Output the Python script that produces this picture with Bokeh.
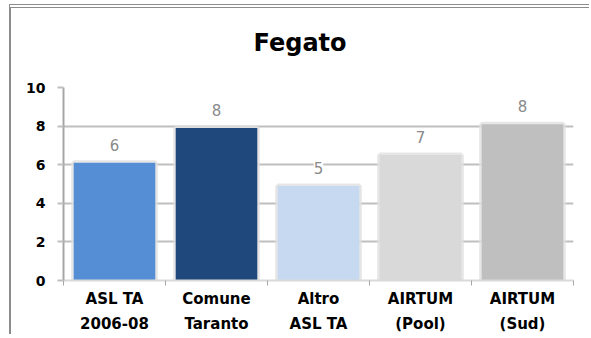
from bokeh.plotting import figure
from bokeh.models import (Range1d, FixedTicker, LinearAxis, CategoricalAxis,
                          ColumnDataSource, LabelSet)
from bokeh.core.properties import value
from bokeh.embed import file_html
from bokeh.resources import INLINE

# ---- data ----
categories = ["ASL TA\n2006-08", "Comune\nTaranto", "Altro\nASL TA", "AIRTUM\n(Pool)", "AIRTUM\n(Sud)"]
values = [6.1, 7.9, 4.9, 6.5, 8.1]
value_labels = ["6", "8", "5", "7", "8"]
colors = ["#558ED5", "#1F497D", "#C6D9F1", "#D9D9D9", "#BFBFBF"]
y_ticks = [0, 2, 4, 6, 8, 10]
title_text = "Fegato"

FONT = "DejaVu Sans"

p = figure(width=580, height=330, x_range=categories, y_range=Range1d(0, 10),
           output_backend="svg", toolbar_location=None,
           x_axis_location=None, y_axis_location="left",
           min_border_left=52, min_border_right=18, min_border_top=79, min_border_bottom=58,
           title=title_text + "\n")
p.styles = {"margin-left": "9px", "margin-top": "4px",
            "border-left": "2px solid #8C8C8C", "border-top": "4px double #8C8C8C"}
p.outline_line_color = None
p.background_fill_color = "white"
p.border_fill_color = "white"
p.xgrid.visible = False

p.title.align = "left"
p.title.offset = 190
p.title.standoff = 6
p.title.text_font = FONT
p.title.text_font_size = "24px"
p.title.text_font_style = "bold"
p.title.text_color = "black"

# y axis
p.yaxis.ticker = FixedTicker(ticks=y_ticks)
p.yaxis.axis_line_color = "#A6A6A6"
p.yaxis.axis_line_width = 2
p.yaxis.major_tick_out = 6
p.yaxis.major_tick_in = 0
p.yaxis.major_tick_line_color = "#BFBFBF"
p.yaxis.major_tick_line_width = 2
p.yaxis.minor_tick_line_color = None
p.yaxis.major_label_text_font = FONT
p.yaxis.major_label_text_font_size = "14px"
p.yaxis.major_label_text_font_style = "bold"
p.yaxis.major_label_text_color = "black"
p.yaxis.major_label_standoff = 12
p.ygrid.ticker = FixedTicker(ticks=y_ticks)
p.ygrid.grid_line_color = "#BFBFBF"
p.ygrid.grid_line_width = 2

# x axis: boundary tick marks (minor ticks only, no labels) + category labels
tick_axis = LinearAxis(ticker=FixedTicker(ticks=[], minor_ticks=list(range(len(categories) + 1))),
                       major_tick_out=0, major_tick_in=0, minor_tick_out=5, minor_tick_in=0,
                       major_label_standoff=0,
                       axis_line_color="#D9D9D9", axis_line_width=2,
                       minor_tick_line_color="#A6A6A6", minor_tick_line_width=1)
p.add_layout(tick_axis, "below")

cat_axis = CategoricalAxis(major_tick_line_color=None, major_tick_out=0, major_tick_in=0,
                           axis_line_color=None,
                           major_label_text_font=FONT, major_label_text_font_style="bold",
                           major_label_text_font_size="15px", major_label_text_color="black",
                           major_label_standoff=4, major_label_text_line_height=1.42)
p.add_layout(cat_axis, "below")

source = ColumnDataSource(dict(cat=categories, val=values, lab=value_labels, color=colors))

# soft shadow behind bars
p.vbar(x="cat", top="val", width=0.8, source=source, fill_color=None,
       line_color="#E0E0E0", line_width=5, line_alpha=0.8)
p.vbar(x="cat", top="val", width=0.8, source=source, fill_color="color", line_color=None)

labels = LabelSet(x="cat", y="val", text="lab", source=source, y_offset=18,
                  text_align="center", text_baseline="middle", text_font=value(FONT),
                  text_font_size="15px", text_color="#8A8A8A",
                  background_fill_color="white")
p.add_layout(labels)

open("out.html", "w").write(file_html(p, INLINE))
